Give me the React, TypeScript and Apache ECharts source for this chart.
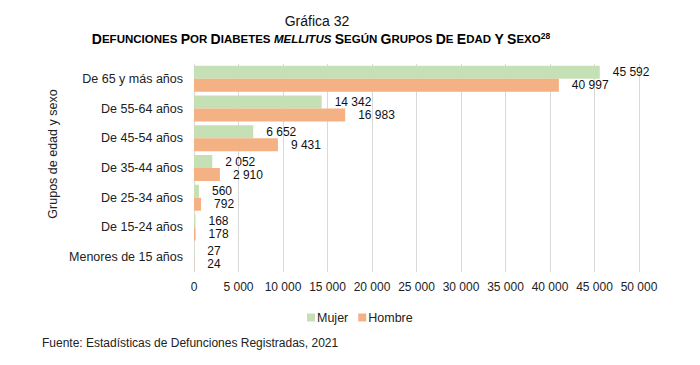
import React, { useEffect, useRef } from "react";
import * as echarts from "echarts";

const categories = [
  "De 65 y más años",
  "De 55-64 años",
  "De 45-54 años",
  "De 35-44 años",
  "De 25-34 años",
  "De 15-24 años",
  "Menores de 15 años",
];
const mujer = [45592, 14342, 6652, 2052, 560, 168, 27];
const hombre = [40997, 16983, 9431, 2910, 792, 178, 24];
const seriesNames = ["Mujer", "Hombre"];
const xMax = 50000;
const xInterval = 5000;

const fmt = (v: number) => String(Math.round(v)).replace(/\B(?=(\d{3})+(?!\d))/g, " ");

const FONT = "Liberation Sans, Arial, sans-serif";

export default function App() {
  const ref = useRef<HTMLDivElement>(null);
  useEffect(() => {
    if (!ref.current) return;
    const chart = echarts.init(ref.current, undefined, { renderer: "svg" });
    const labelCfg = {
      show: true,
      position: "right" as const,
      distance: 13,
      color: "#111",
      fontSize: 12,
      fontFamily: FONT,
      formatter: (p: any) => fmt(p.value),
    };
    chart.setOption({
      animation: false,
      textStyle: { fontFamily: FONT },
      legend: {
        data: seriesNames,
        left: 302,
        top: 306,
        itemWidth: 8,
        itemHeight: 8,
        itemGap: 10,
        icon: "rect",
        textStyle: { fontSize: 12.5, color: "#222", fontFamily: FONT, padding: [0, 0, 0, -3] },
      },
      grid: { left: 194, right: 61, top: 64, bottom: 93, containLabel: false },
      xAxis: {
        type: "value",
        min: 0,
        max: xMax,
        interval: xInterval,
        axisLine: { show: false },
        axisTick: { show: false },
        splitLine: { show: true, lineStyle: { color: "#d9d9d9", width: 1 } },
        axisLabel: {
          fontSize: 12,
          color: "#222",
          margin: 9,
          fontFamily: FONT,
          formatter: (v: number) => fmt(v),
        },
      },
      yAxis: {
        type: "category",
        data: categories,
        inverse: true,
        axisLine: { show: true, lineStyle: { color: "#d9d9d9" } },
        axisTick: { show: false },
        axisLabel: { fontSize: 12.5, color: "#222", margin: 11, fontFamily: FONT },
      },
      graphic: [
        {
          type: "text",
          x: 317,
          y: 21,
          style: {
            text: "Gráfica 32",
            fontSize: 14,
            fill: "#111",
            fontFamily: FONT,
            align: "center",
            verticalAlign: "middle",
          },
        },
        {
          type: "text",
          x: 321,
          y: 39,
          style: {
            text:
              "{b|D}{s|EFUNCIONES} {b|P}{s|OR} {b|D}{s|IABETES} {i|MELLITUS} {b|S}{s|EGÚN} {b|G}{s|RUPOS} {b|D}{s|E} {b|E}{s|DAD} {b|Y} {b|S}{s|EXO}{sup|28}",
            align: "center",
            verticalAlign: "middle",
            rich: {
              b: { fontSize: 14, fontWeight: "bold", fill: "#000", fontFamily: FONT },
              s: { fontSize: 11.5, fontWeight: "bold", fill: "#000", fontFamily: FONT },
              i: { fontSize: 11.5, fontWeight: "bold", fontStyle: "italic", fill: "#000", fontFamily: FONT },
              sup: { fontSize: 8.5, fontWeight: "bold", fill: "#000", fontFamily: FONT, verticalAlign: "top", padding: [0, 0, 6, 0] },
            },
          },
        },
        {
          type: "text",
          x: 53,
          y: 154,
          rotation: Math.PI / 2,
          style: {
            text: "Grupos de edad y sexo",
            fontSize: 12.5,
            fill: "#222",
            fontFamily: FONT,
            align: "center",
            verticalAlign: "middle",
          },
        },
        {
          type: "text",
          x: 42,
          y: 343,
          style: {
            text: "Fuente: Estadísticas de Defunciones Registradas, 2021",
            fontSize: 12,
            fill: "#222",
            fontFamily: FONT,
            verticalAlign: "middle",
          },
        },
      ],
      series: [
        {
          name: seriesNames[0],
          type: "bar",
          data: mujer,
          barWidth: 13,
          barGap: "0%",
          itemStyle: { color: "#C5E0B4" },
          label: labelCfg,
        },
        {
          name: seriesNames[1],
          type: "bar",
          data: hombre,
          barWidth: 13,
          barGap: "0%",
          itemStyle: { color: "#F4B183" },
          label: labelCfg,
        },
      ],
    });
    return () => chart.dispose();
  }, []);
  return <div ref={ref} style={{ width: 700, height: 365, margin: -8 }} />;
}
